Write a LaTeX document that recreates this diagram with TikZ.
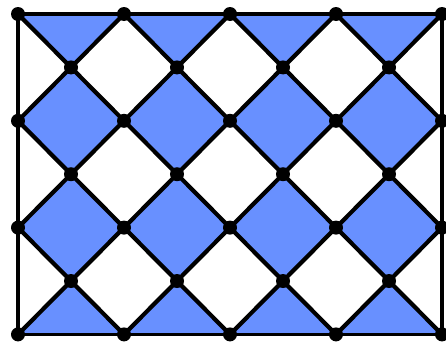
\documentclass[tikz,border=0pt]{standalone}
\definecolor{tileblue}{RGB}{104,144,255}
\begin{document}
\begin{tikzpicture}[x=1pt,y=1pt,
  edge/.style={line width=4.2pt,black},
  dot/.style={circle,fill=black,inner sep=0pt,minimum size=14pt}]
\useasboundingbox (0,0) rectangle (446,-343);
\begin{scope}[shift={(18,-14)},x=106pt,y=-106.8pt]
  \coordinate (tl) at (0,0);
  \coordinate (br) at (4,3);
  \begin{scope}
    \clip (tl) rectangle (br);
    \foreach \i in {0,...,3}{
      \foreach \j in {0,...,3}{
        \fill[tileblue] (\i,\j) -- (\i+0.5,\j-0.5) -- (\i+1,\j) -- (\i+0.5,\j+0.5) -- cycle;
      }
    }
    \foreach \k in {-3,...,4}{
      \draw[edge] (\k,0) -- (\k+3,3);
    }
    \foreach \k in {0,...,7}{
      \draw[edge] (\k,0) -- (\k-3,3);
    }
  \end{scope}
  \draw[edge,line width=3.8pt] (tl) rectangle (br);
  \foreach \i in {0,...,4}{
    \foreach \j in {0,...,3}{
      \node[dot] (p\i\j) at (\i,\j) {};
    }
  }
  \foreach \i in {0,...,3}{
    \foreach \j in {0,...,2}{
      \node[dot] (h\i\j) at (\i+0.5,\j+0.5) {};
    }
  }
\end{scope}
\end{tikzpicture}
\end{document}
